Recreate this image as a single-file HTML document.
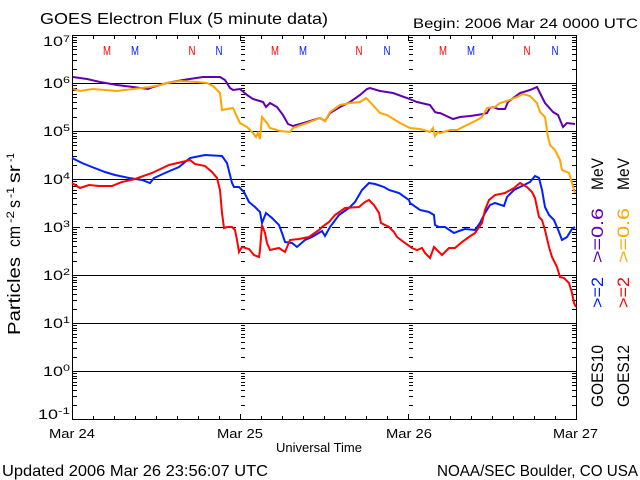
<!DOCTYPE html>
<html><head><meta charset="utf-8"><style>
html,body{margin:0;padding:0;background:#fff;}
svg{display:block;}
text{font-family:"Liberation Sans",sans-serif;}
</style></head><body>
<svg width="640" height="480" viewBox="0 0 640 480" xmlns="http://www.w3.org/2000/svg">
<rect width="640" height="480" fill="#fff"/>
<defs>
<path id="mt" d="M0,-13.5h4M0,-22.5h4M0,-28.5h4M0,-33.5h4M0,-36.5h4M0,-40.5h4M0,-42.5h4M0,-45.5h4" stroke="#000" stroke-width="1" fill="none"/>
</defs>

<!-- titles -->
<text x="40" y="24" font-size="16" textLength="288" lengthAdjust="spacingAndGlyphs">GOES Electron Flux (5 minute data)</text>
<text x="413" y="28" font-size="14" textLength="225" lengthAdjust="spacingAndGlyphs">Begin: 2006 Mar 24 0000 UTC</text>
<text x="2" y="476" font-size="16" textLength="266" lengthAdjust="spacingAndGlyphs">Updated 2006 Mar 26 23:56:07 UTC</text>
<text x="437" y="476" font-size="16" textLength="201" lengthAdjust="spacingAndGlyphs">NOAA/SEC Boulder, CO USA</text>

<!-- x labels -->
<text x="49" y="438" font-size="13" textLength="46" lengthAdjust="spacingAndGlyphs">Mar 24</text>
<text x="217" y="438" font-size="13" textLength="46" lengthAdjust="spacingAndGlyphs">Mar 25</text>
<text x="386" y="438" font-size="13" textLength="46" lengthAdjust="spacingAndGlyphs">Mar 26</text>
<text x="553" y="438" font-size="13" textLength="45" lengthAdjust="spacingAndGlyphs">Mar 27</text>
<text x="276" y="452" font-size="12.5" textLength="86" lengthAdjust="spacingAndGlyphs">Universal Time</text>

<!-- y tick labels -->
<g font-size="14">
<text x="43" y="46" textLength="20" lengthAdjust="spacingAndGlyphs">10</text>
<text x="43" y="88" textLength="20" lengthAdjust="spacingAndGlyphs">10</text>
<text x="43" y="136" textLength="20" lengthAdjust="spacingAndGlyphs">10</text>
<text x="43" y="184" textLength="20" lengthAdjust="spacingAndGlyphs">10</text>
<text x="43" y="232" textLength="20" lengthAdjust="spacingAndGlyphs">10</text>
<text x="43" y="280" textLength="20" lengthAdjust="spacingAndGlyphs">10</text>
<text x="43" y="328" textLength="20" lengthAdjust="spacingAndGlyphs">10</text>
<text x="43" y="376" textLength="20" lengthAdjust="spacingAndGlyphs">10</text>
<text x="38" y="419" textLength="20" lengthAdjust="spacingAndGlyphs">10</text>
</g>
<g font-size="9.5">
<text x="63" y="42" textLength="7" lengthAdjust="spacingAndGlyphs">7</text>
<text x="63" y="83" textLength="7" lengthAdjust="spacingAndGlyphs">6</text>
<text x="63" y="131" textLength="7" lengthAdjust="spacingAndGlyphs">5</text>
<text x="63" y="179" textLength="7" lengthAdjust="spacingAndGlyphs">4</text>
<text x="63" y="227" textLength="7" lengthAdjust="spacingAndGlyphs">3</text>
<text x="63" y="275" textLength="7" lengthAdjust="spacingAndGlyphs">2</text>
<text x="63" y="323" textLength="7" lengthAdjust="spacingAndGlyphs">1</text>
<text x="63" y="371" textLength="7" lengthAdjust="spacingAndGlyphs">0</text>
<text x="58" y="414" textLength="12" lengthAdjust="spacingAndGlyphs">-1</text>
</g>

<!-- y axis title -->
<g font-size="17.5">
<text transform="translate(20,335) rotate(-90)" textLength="78" lengthAdjust="spacingAndGlyphs">Particles</text>
<text transform="translate(20,247) rotate(-90)" textLength="21" lengthAdjust="spacingAndGlyphs">cm</text>
<text transform="translate(20,208) rotate(-90)" textLength="8" lengthAdjust="spacingAndGlyphs">s</text>
<text transform="translate(20,183) rotate(-90)" textLength="18" lengthAdjust="spacingAndGlyphs">sr</text>
</g>
<g font-size="11">
<text transform="translate(14,223) rotate(-90)" textLength="12" lengthAdjust="spacingAndGlyphs">-2</text>
<text transform="translate(14,198) rotate(-90)" textLength="11" lengthAdjust="spacingAndGlyphs">-1</text>
<text transform="translate(14,162) rotate(-90)" textLength="9" lengthAdjust="spacingAndGlyphs">-1</text>
</g>

<!-- right labels -->
<g font-size="17">
<text transform="translate(603,407) rotate(-90)" textLength="62" lengthAdjust="spacingAndGlyphs">GOES10</text>
<text transform="translate(603,308) rotate(-90)" textLength="31" lengthAdjust="spacingAndGlyphs" fill="#0020ff">&gt;=2</text>
<text transform="translate(603,263) rotate(-90)" textLength="55" lengthAdjust="spacingAndGlyphs" fill="#6000b0">&gt;=0.6</text>
<text transform="translate(603,190) rotate(-90)" textLength="32" lengthAdjust="spacingAndGlyphs">MeV</text>
<text transform="translate(629,407) rotate(-90)" textLength="62" lengthAdjust="spacingAndGlyphs">GOES12</text>
<text transform="translate(629,308) rotate(-90)" textLength="31" lengthAdjust="spacingAndGlyphs" fill="#ff0000">&gt;=2</text>
<text transform="translate(629,263) rotate(-90)" textLength="55" lengthAdjust="spacingAndGlyphs" fill="#ffa500">&gt;=0.6</text>
<text transform="translate(629,190) rotate(-90)" textLength="32" lengthAdjust="spacingAndGlyphs">MeV</text>
</g>

<!-- M/N markers -->
<g font-size="12.5" text-anchor="middle">
<text x="107" y="55" fill="#ff0000" textLength="8" lengthAdjust="spacingAndGlyphs">M</text>
<text x="135" y="55" fill="#0020ff" textLength="8" lengthAdjust="spacingAndGlyphs">M</text>
<text x="192" y="55" fill="#ff0000" textLength="7" lengthAdjust="spacingAndGlyphs">N</text>
<text x="219" y="55" fill="#0020ff" textLength="7" lengthAdjust="spacingAndGlyphs">N</text>
<text x="275" y="55" fill="#ff0000" textLength="8" lengthAdjust="spacingAndGlyphs">M</text>
<text x="303" y="55" fill="#0020ff" textLength="8" lengthAdjust="spacingAndGlyphs">M</text>
<text x="359" y="55" fill="#ff0000" textLength="7" lengthAdjust="spacingAndGlyphs">N</text>
<text x="387" y="55" fill="#0020ff" textLength="7" lengthAdjust="spacingAndGlyphs">N</text>
<text x="443" y="55" fill="#ff0000" textLength="8" lengthAdjust="spacingAndGlyphs">M</text>
<text x="471" y="55" fill="#0020ff" textLength="8" lengthAdjust="spacingAndGlyphs">M</text>
<text x="527" y="55" fill="#ff0000" textLength="7" lengthAdjust="spacingAndGlyphs">N</text>
<text x="555" y="55" fill="#0020ff" textLength="7" lengthAdjust="spacingAndGlyphs">N</text>
</g>

<!-- grid -->
<g stroke="#000" stroke-width="1" fill="none">
<path d="M72,83.5H577M72,131.5H577M72,179.5H577M72,275.5H577M72,323.5H577M72,371.5H577"/>
<path d="M72,227.5H577" stroke-dasharray="8,5"/>
<rect x="72.5" y="35.5" width="504" height="384"/>
<!-- top/bottom minor ticks -->
<path d="M93.5,36v3M114.5,36v3M135.5,36v3M156.5,36v3M177.5,36v3M198.5,36v3M219.5,36v3M261.5,36v3M282.5,36v3M303.5,36v3M324.5,36v3M345.5,36v3M366.5,36v3M387.5,36v3M429.5,36v3M450.5,36v3M471.5,36v3M492.5,36v3M513.5,36v3M534.5,36v3M555.5,36v3"/>
<path d="M93.5,419v-3M114.5,419v-3M135.5,419v-3M156.5,419v-3M177.5,419v-3M198.5,419v-3M219.5,419v-3M261.5,419v-3M282.5,419v-3M303.5,419v-3M324.5,419v-3M345.5,419v-3M366.5,419v-3M387.5,419v-3M429.5,419v-3M450.5,419v-3M471.5,419v-3M492.5,419v-3M513.5,419v-3M534.5,419v-3M555.5,419v-3"/>
<path d="M240.5,36v5M408.5,36v5M240.5,419v-5M408.5,419v-5"/>
</g>

<!-- minor log ticks: left axis -->
<use href="#mt" x="73" y="83"/><use href="#mt" x="73" y="131"/><use href="#mt" x="73" y="179"/><use href="#mt" x="73" y="227"/>
<use href="#mt" x="73" y="275"/><use href="#mt" x="73" y="323"/><use href="#mt" x="73" y="371"/><use href="#mt" x="73" y="419"/>
<!-- right axis -->
<use href="#mt" x="572" y="83"/><use href="#mt" x="572" y="131"/><use href="#mt" x="572" y="179"/><use href="#mt" x="572" y="227"/>
<use href="#mt" x="572" y="275"/><use href="#mt" x="572" y="323"/><use href="#mt" x="572" y="371"/><use href="#mt" x="572" y="419"/>
<!-- Mar 25 line -->
<use href="#mt" x="241" y="83"/><use href="#mt" x="241" y="131"/><use href="#mt" x="241" y="179"/><use href="#mt" x="241" y="227"/>
<use href="#mt" x="241" y="275"/><use href="#mt" x="241" y="323"/><use href="#mt" x="241" y="371"/><use href="#mt" x="241" y="419"/>
<!-- Mar 26 line -->
<use href="#mt" x="409" y="83"/><use href="#mt" x="409" y="131"/><use href="#mt" x="409" y="179"/><use href="#mt" x="409" y="227"/>
<use href="#mt" x="409" y="275"/><use href="#mt" x="409" y="323"/><use href="#mt" x="409" y="371"/><use href="#mt" x="409" y="419"/>

<!-- data -->
<g fill="none" stroke-width="2" stroke-linejoin="miter">
<polyline stroke="#6000b0" points="73,77 87,79 100,82 117,85 133,87 148,89 153,87 167,83 183,80 203,77 220,77 225,80 230,88 233,90 240,89 247,95 253,99 263,102 266,107 270,103 277,107 283,115 288,124 293,126 307,122 320,118 325,121 330,113 340,107 350,102 360,95 367,89 370,88 380,91 393,93 407,98 417,102 430,105 435,112 438,113 440,113 453,119 460,117 470,116 477,115 483,114 487,113 490,108 493,107 498,109 505,109 508,102 520,93 530,90 537,87 540,93 545,103 553,112 558,115 563,127 567,123 575,124"/>
<polyline stroke="#ffa500" points="73,89 80,91 93,89 117,91 133,89 150,87 160,85 167,83 180,81 197,82 207,83 213,86 220,93 222,110 227,109 233,108 237,117 240,123 247,127 253,133 256,137 258,133 260,139 262,117 267,123 270,128 280,131 290,132 293,128 307,123 320,118 325,121 330,112 340,105 350,103 360,102 366,98 368,100 370,102 380,113 387,115 400,123 410,128 420,129 430,132 433,128 435,136 438,132 440,133 450,130 457,130 467,125 477,120 482,117 487,108 495,107 500,103 507,101 517,97 523,94 530,96 537,103 540,112 545,117 548,137 550,145 555,150 560,160 562,170 569,173 572,183 575,193"/>
<polyline stroke="#0020ff" points="72,158 82,163 92,167 105,172 115,175 129,178 142,180 150,183 154,178 165,173 179,167 190,158 195,157 205,155 222,156 227,163 232,183 234,187 239,187 244,192 249,202 255,207 260,212 262,223 266,213 272,218 279,225 282,233 285,242 292,243 297,247 305,240 312,237 322,231 325,236 330,227 339,215 349,208 355,202 362,190 369,183 375,184 384,187 389,190 399,193 409,200 410,203 420,210 429,212 434,215 435,225 439,227 445,227 454,233 459,231 465,229 475,230 480,223 485,213 490,205 495,203 504,206 507,197 514,190 522,186 530,182 535,176 539,178 542,190 545,207 549,215 554,220 559,232 562,240 567,237 572,229 575,227"/>
<polyline stroke="#ff0000" points="72,183 80,188 89,185 99,186 112,186 122,182 135,179 152,173 169,165 182,162 190,160 195,164 205,166 212,172 217,178 220,190 222,213 224,228 227,227 232,227 235,230 237,240 239,252 242,247 249,249 254,255 259,257 260,250 262,225 265,233 267,243 270,250 279,248 285,252 290,240 299,239 309,237 319,230 322,227 329,222 335,215 345,208 359,207 365,202 369,200 374,205 379,213 381,223 389,227 394,232 397,237 405,243 412,248 417,250 422,248 425,253 430,258 434,247 437,250 442,255 449,248 455,248 462,242 469,237 475,233 482,223 485,210 489,200 495,195 505,193 514,188 520,183 527,187 532,192 535,198 539,217 542,220 545,230 549,247 552,257 557,267 560,277 564,278 569,283 572,293 574,303 576,307"/>
</g>
</svg>
</body></html>
